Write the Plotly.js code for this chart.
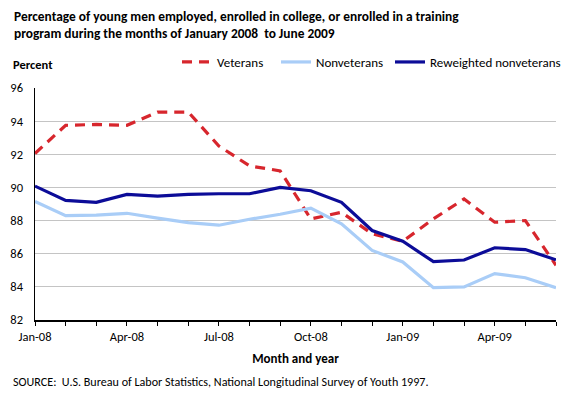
<!DOCTYPE html>
<html>
<head>
<meta charset="utf-8">
<script src="https://cdn.plot.ly/plotly-3.0.1.min.js"></script>
<style>
  html, body { margin: 0; padding: 0; background: #fff; }
  #chart { width: 580px; height: 397px; }
</style>
</head>
<body>
<div id="chart"></div>
<script>
const months = ["Jan-08","Feb-08","Mar-08","Apr-08","May-08","Jun-08","Jul-08","Aug-08","Sep-08",
                "Oct-08","Nov-08","Dec-08","Jan-09","Feb-09","Mar-09","Apr-09","May-09","Jun-09"];
const veterans = [92.05, 93.75, 93.8, 93.75, 94.55, 94.55, 92.5, 91.3, 91.0,
                  88.1, 88.5, 87.2, 86.75, 88.1, 89.3, 87.9, 88.0, 85.3];
const nonveterans = [89.15, 88.3, 88.33, 88.44, 88.15, 87.88, 87.72, 88.08, 88.38,
                     88.75, 87.8, 86.2, 85.5, 83.95, 84.0, 84.8, 84.55, 83.95];
const reweighted = [90.08, 89.22, 89.1, 89.58, 89.47, 89.58, 89.62, 89.62, 90.0,
                    89.8, 89.1, 87.4, 86.75, 85.52, 85.62, 86.36, 86.25, 85.63];
const labelEvery = 3;

const idx = months.map((m, i) => i);
const tickVals = idx.filter(i => i % labelEvery === 0);
const tickText = tickVals.map(i => months[i]);

const FONT = "Carlito, Lato, 'Liberation Sans', sans-serif";
const PW = 521, PH = 232; // plot area size in px

const traces = [
  { x: idx, y: veterans, name: "Veterans", mode: "lines", type: "scatter", legend: "legend",
    line: { color: "#d7262d", width: 3.2, dash: "10px,7px" } },
  { x: idx, y: nonveterans, name: "Nonveterans", mode: "lines", type: "scatter", legend: "legend2",
    line: { color: "#a9cdf7", width: 3.2 } },
  { x: idx, y: reweighted, name: "Reweighted nonveterans", mode: "lines", type: "scatter", legend: "legend3",
    line: { color: "#0c0c98", width: 3.2 } }
];

function legendAt(px) {
  return {
    orientation: "h", x: px / 580, xanchor: "left", xref: "container",
    y: 1 - 62 / 397, yanchor: "middle", yref: "container",
    font: { family: FONT, size: 13, color: "#000" },
    itemwidth: 30, bgcolor: "rgba(0,0,0,0)", borderwidth: 0
  };
}

const layout = {
  width: 580, height: 397,
  margin: { l: 35, r: 24, t: 88, b: 77, autoexpand: false },
  paper_bgcolor: "#fff", plot_bgcolor: "#fff",
  font: { family: FONT, size: 12.5, color: "#000" },
  showlegend: true,
  legend: legendAt(177),
  legend2: legendAt(276),
  legend3: legendAt(390),
  xaxis: {
    range: [0, months.length - 1],
    tickmode: "array", tickvals: tickVals, ticktext: tickText,
    ticks: "outside", ticklen: 4, tickcolor: "#000", tickwidth: 1,
    minor: { tickmode: "linear", tick0: 0, dtick: 1, ticks: "outside", ticklen: 4, tickcolor: "#000", showgrid: false },
    showline: true, linecolor: "#000", linewidth: 1.5,
    showgrid: false, zeroline: false,
    tickfont: { family: FONT, size: 12.5, color: "#000" },
    title: { text: "<b>Month and year</b>", font: { family: FONT, size: 13, color: "#000" }, standoff: 11 }
  },
  yaxis: {
    range: [82, 96], dtick: 2, tick0: 82,
    showline: true, linecolor: "#000", linewidth: 1.5,
    showgrid: true, gridcolor: "#c4c4c4", gridwidth: 1, zeroline: false,
    ticks: "", ticklabelstandoff: 8,
    tickfont: { family: FONT, size: 12.5, color: "#000" }
  },
  annotations: [
    { text: "<b>Percentage of young men employed, enrolled in college, or enrolled in a training<br>program during the months of January 2008  to June 2009</b>",
      xref: "paper", yref: "paper", x: -23 / PW, y: 1 + 82 / PH,
      xanchor: "left", yanchor: "top", align: "left", showarrow: false,
      font: { family: FONT, size: 13.4, color: "#000" } },
    { text: "<b>Percent</b>", xref: "paper", yref: "paper", x: -24 / PW, y: 1 + 24 / PH,
      xanchor: "left", yanchor: "middle", showarrow: false,
      font: { family: FONT, size: 12.5, color: "#000" } },
    { text: "SOURCE:  U.S. Bureau of Labor Statistics, National Longitudinal Survey of Youth 1997.",
      xref: "paper", yref: "paper", x: -24 / PW, y: -(381 - 320) / PH,
      xanchor: "left", yanchor: "middle", showarrow: false,
      font: { family: FONT, size: 12.1, color: "#000" } }
  ]
};

Plotly.newPlot("chart", traces, layout, { displayModeBar: false, staticPlot: true });
</script>
</body>
</html>
